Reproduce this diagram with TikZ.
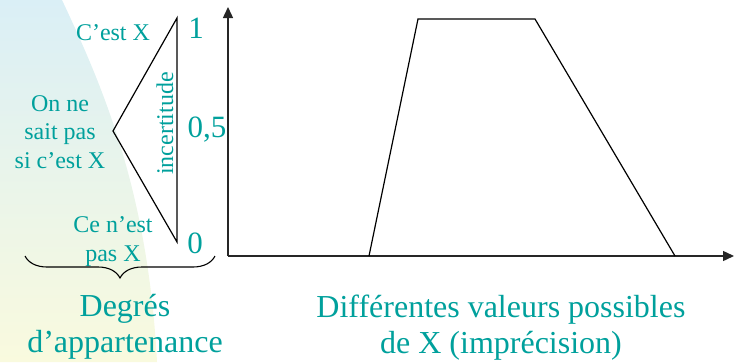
\documentclass[tikz,border=0pt]{standalone}
\usepackage{fontspec}
\setmainfont{Liberation Serif}
\usetikzlibrary{arrows.meta,decorations.pathreplacing}
\definecolor{teal1}{RGB}{0,160,156}
\definecolor{bgblue}{RGB}{218,239,246}
\definecolor{bgyellow}{RGB}{249,250,222}
\tikzset{
  lbl/.style={text=teal1,inner sep=0pt,anchor=base,font=\fontsize{24}{28.5}\selectfont,align=center},
  num/.style={text=teal1,inner sep=0pt,anchor=base,font=\fontsize{31}{36}\selectfont},
  big/.style={text=teal1,inner sep=0pt,anchor=base,font=\fontsize{32}{36}\selectfont,align=center},
  thinline/.style={line width=1.2pt,black},
  axis/.style={line width=1.4pt,black!85,-{Triangle[length=11pt,width=10pt]}},
}
\begin{document}
\begin{tikzpicture}[x=1pt,y=-1pt]
\useasboundingbox (0,0) rectangle (734,362);
% background gradient
\shade[top color=bgblue,bottom color=bgyellow] (0,0) -- (62,0) .. controls (102,85) and (148,190) .. (157,362) -- (0,362) -- cycle;
% triangle
\coordinate (t1) at (177,18);
\coordinate (tm) at (113,131);
\coordinate (t0) at (177,242);
\draw[thinline,line join=miter] (t1) -- (tm) -- (t0) -- cycle;
% axes
\coordinate (O) at (228,256);
\coordinate (Ytip) at (228,7);
\coordinate (Xtip) at (734,256);
\draw[axis] (O) -- (Ytip);
\draw[axis] (O) -- (Xtip);
% trapezoid
\coordinate (p1) at (369,256);
\coordinate (p2) at (418,19);
\coordinate (p3) at (535,19);
\coordinate (p4) at (675,256);
\draw[thinline] (p1) -- (p2) -- (p3) -- (p4);
% labels
\node[lbl] (cx) at (113,40) {C’est X};
\node[lbl] (on) at (60,168) {On ne\\sait pas\\si c’est X};
\node[lbl] (ce) at (113,261) {Ce n’est\\pas X};
\node[lbl,rotate=90] (inc) at (173,123.5) {incertitude};
\node[num] (n1) at (196,38) {1};
\node[num] (n05) at (207,137) {0,5};
\node[num] (n0) at (195,253) {0};
% brace
\coordinate (b1) at (25,256);
\coordinate (b2) at (215,256);
\draw[line width=1.1pt,decorate,decoration={brace,mirror,amplitude=22pt}] (b1) -- (b2);
\node[big] (deg) at (125,352) {Degrés\\d’appartenance};
\node[big] (dif) at (501,353) {Différentes valeurs possibles\\de X (imprécision)};
\end{tikzpicture}
\end{document}
